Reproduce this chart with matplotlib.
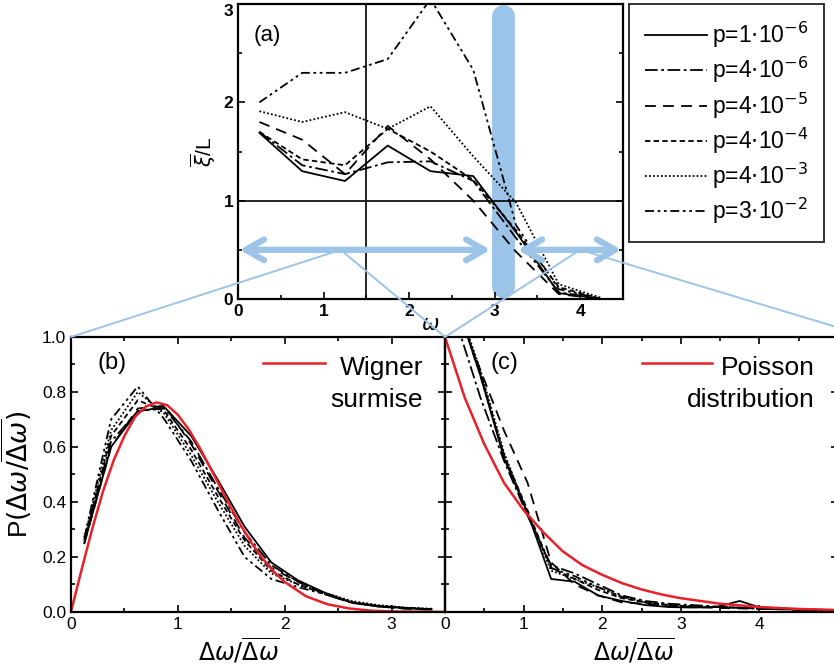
import matplotlib
matplotlib.use('Agg')
import matplotlib.pyplot as plt
import matplotlib.transforms as mtransforms
from matplotlib.patches import ConnectionPatch
from matplotlib.ticker import MultipleLocator

plt.rcParams['font.family'] = ['Liberation Sans', 'DejaVu Sans']
plt.rcParams['mathtext.fontset'] = 'dejavusans'

# ---- panel (a): localisation length vs frequency
omega = [0.25, 0.75, 1.25, 1.75, 2.25, 2.75, 3.25, 3.75, 4.25]
xi_1e6 = [1.69, 1.30, 1.20, 1.56, 1.30, 1.25, 0.68, 0.06, 0.00]
xi_4e6 = [1.70, 1.36, 1.27, 1.39, 1.40, 1.20, 0.62, 0.07, 0.00]
xi_4e5 = [1.80, 1.62, 1.27, 1.76, 1.42, 1.00, 0.48, 0.05, 0.00]
xi_4e4 = [1.70, 1.42, 1.36, 1.73, 1.50, 1.21, 0.70, 0.12, 0.00]
xi_4e3 = [1.91, 1.80, 1.90, 1.73, 1.96, 1.45, 0.98, 0.15, 0.01]
xi_3e2 = [2.00, 2.30, 2.30, 2.44, 3.05, 2.33, 0.75, 0.10, 0.00]

labels = [r'p=1$\cdot$10$^{-6}$', r'p=4$\cdot$10$^{-6}$', r'p=4$\cdot$10$^{-5}$',
          r'p=4$\cdot$10$^{-4}$', r'p=4$\cdot$10$^{-3}$', r'p=3$\cdot$10$^{-2}$']
styles = ['-', (0, (7, 2, 1.5, 2)), (0, (6, 4)), (0, (3, 1.8)), (0, (1, 1.2)),
          (0, (5, 2, 1.5, 2, 1.5, 2))]

# ---- panel (b): spacing distribution, delocalised region
s_b = [0.125, 0.375, 0.625, 0.875, 1.125, 1.375, 1.625, 1.875, 2.125, 2.375, 2.625, 2.875, 3.125, 3.375]
pb_1e6 = [0.25, 0.60, 0.73, 0.745, 0.64, 0.48, 0.31, 0.18, 0.115, 0.07, 0.035, 0.022, 0.015, 0.010]
pb_4e6 = [0.26, 0.62, 0.73, 0.74, 0.62, 0.45, 0.29, 0.17, 0.11, 0.065, 0.033, 0.020, 0.013, 0.009]
pb_4e5 = [0.25, 0.60, 0.74, 0.75, 0.61, 0.44, 0.27, 0.16, 0.11, 0.065, 0.035, 0.020, 0.012, 0.008]
pb_4e4 = [0.26, 0.64, 0.77, 0.73, 0.59, 0.42, 0.26, 0.15, 0.10, 0.065, 0.035, 0.022, 0.014, 0.010]
pb_4e3 = [0.27, 0.66, 0.80, 0.72, 0.57, 0.40, 0.24, 0.14, 0.10, 0.070, 0.040, 0.025, 0.016, 0.012]
pb_3e2 = [0.27, 0.70, 0.82, 0.70, 0.55, 0.37, 0.20, 0.12, 0.09, 0.065, 0.035, 0.020, 0.015, 0.010]

s_wig = [0, 0.1, 0.2, 0.3, 0.4, 0.5, 0.6, 0.7, 0.8, 0.9, 1.0, 1.1, 1.2, 1.3, 1.4, 1.5, 1.6,
         1.7, 1.8, 1.9, 2.0, 2.2, 2.4, 2.6, 2.8, 3.0, 3.25, 3.5]
p_wig = [0, 0.155, 0.304, 0.439, 0.552, 0.640, 0.710, 0.747, 0.762, 0.752, 0.717, 0.665,
         0.600, 0.527, 0.452, 0.377, 0.308, 0.245, 0.191, 0.146, 0.109, 0.057, 0.028,
         0.013, 0.005, 0.002, 0.001, 0.0]

# ---- panel (c): spacing distribution, localised region
s_c = [0.15, 0.45, 0.75, 1.05, 1.35, 1.65, 1.95, 2.25, 2.55, 2.85, 3.15, 3.45, 3.75, 4.05, 4.35, 4.65, 4.95]
pc_1e6 = [1.12, 0.86, 0.56, 0.36, 0.12, 0.11, 0.06, 0.04, 0.025, 0.018, 0.016, 0.018, 0.040, 0.012, 0.010, 0.008, 0.006]
pc_4e6 = [1.05, 0.78, 0.55, 0.35, 0.17, 0.14, 0.10, 0.06, 0.040, 0.030, 0.025, 0.020, 0.015, 0.012, 0.010, 0.008, 0.006]
pc_4e5 = [1.10, 0.88, 0.66, 0.47, 0.18, 0.10, 0.06, 0.035, 0.030, 0.020, 0.018, 0.015, 0.013, 0.011, 0.009, 0.007, 0.006]
pc_4e4 = [1.12, 0.87, 0.57, 0.37, 0.16, 0.12, 0.08, 0.05, 0.035, 0.025, 0.020, 0.018, 0.015, 0.012, 0.010, 0.008, 0.006]
pc_4e3 = [1.13, 0.88, 0.58, 0.36, 0.15, 0.12, 0.09, 0.055, 0.035, 0.025, 0.020, 0.018, 0.016, 0.013, 0.011, 0.009, 0.007]
pc_3e2 = [1.12, 0.86, 0.57, 0.36, 0.16, 0.13, 0.09, 0.055, 0.035, 0.025, 0.020, 0.018, 0.015, 0.013, 0.011, 0.009, 0.007]

s_poi = [0, 0.25, 0.5, 0.75, 1.0, 1.25, 1.5, 1.75, 2.0, 2.25, 2.5, 2.75, 3.0, 3.5, 4.0, 4.5, 5.0]
p_poi = [1.0, 0.78, 0.61, 0.47, 0.37, 0.29, 0.22, 0.17, 0.135, 0.105, 0.082, 0.064, 0.050,
         0.030, 0.018, 0.011, 0.007]

blue = '#9cc4e8'
red = '#e8202a'
lw_data = 1.3


def style_axes(ax, right=True, top=True):
    for sp in ax.spines.values():
        sp.set_linewidth(1.6)
    ax.tick_params(which='both', direction='in', right=right, top=top, width=1.2)
    ax.tick_params(which='major', length=5, labelsize=12.5)
    ax.tick_params(which='minor', length=3)


fig = plt.figure(figsize=(8.34, 6.67), dpi=100)
ax_a = fig.add_axes([0.2854, 0.5517, 0.4616, 0.4423])
ax_b = fig.add_axes([0.0851, 0.0825, 0.4485, 0.4123])
ax_c = fig.add_axes([0.5336, 0.0825, 0.4712, 0.4123])
ax_b.patch.set_alpha(0)
ax_c.patch.set_alpha(0)

# (a)
ax_a.plot([3.1, 3.1], [0.13, 2.88], color=blue, lw=16.5, solid_capstyle='round', zorder=1)
ax_a.axhline(1.0, color='k', lw=1.2, zorder=2)
ax_a.axvline(1.5, color='k', lw=1.2, zorder=2)
series_a = [xi_1e6, xi_4e6, xi_4e5, xi_4e4, xi_4e3, xi_3e2]
handles = []
for ys, ls, lab in zip(series_a, styles, labels):
    h, = ax_a.plot(omega, ys, color='k', lw=lw_data, linestyle=ls, label=lab, zorder=3)
    handles.append(h)
arrow_kw = dict(arrowstyle='<->,head_length=1.3,head_width=0.75', lw=4.5, color=blue,
                shrinkA=0, shrinkB=0)
ax_a.annotate('', xy=(0.02, 0.5), xytext=(2.95, 0.5), arrowprops=arrow_kw, zorder=4)
ax_a.annotate('', xy=(3.27, 0.5), xytext=(4.48, 0.5), arrowprops=arrow_kw, zorder=4)
ax_a.set_xlim(0, 4.5)
ax_a.set_ylim(0, 3.0)
ax_a.xaxis.set_major_locator(MultipleLocator(1))
ax_a.xaxis.set_minor_locator(MultipleLocator(0.5))
ax_a.set_yticks([0, 1, 2, 3], ['0', '1', '2', ''])
ax_a.yaxis.set_minor_locator(MultipleLocator(0.5))
style_axes(ax_a, right=True, top=False)
for t in ax_a.get_xticklabels() + ax_a.get_yticklabels():
    t.set_fontweight('bold')
# top tick label pushed inside the figure, as in the original
ax_a.text(-0.013, 3.0, '3', transform=mtransforms.blended_transform_factory(ax_a.transAxes, ax_a.transData),
          ha='right', va='top', fontsize=12.5, fontweight='bold')
ax_a.set_xlabel(r'$\omega$', fontsize=15, labelpad=-3)
ax_a.set_ylabel(r'$\overline{\xi}$/L', fontsize=15, labelpad=4)
ax_a.text(0.04, 0.93, '(a)', transform=ax_a.transAxes, fontsize=16, va='top')

leg = fig.legend(handles=handles, loc='upper left', bbox_to_anchor=(629 / 834, 1 - 4 / 667),
                 bbox_transform=fig.transFigure, frameon=True, fancybox=False, edgecolor='k',
                 fontsize=16.5, handlelength=2.7, handletextpad=0.2, labelspacing=0.22,
                 borderpad=0.7, borderaxespad=0)
leg.get_frame().set_linewidth(1.4)

# (b)
series_b = [pb_1e6, pb_4e6, pb_4e5, pb_4e4, pb_4e3, pb_3e2]
for ys, ls in zip(series_b, styles):
    ax_b.plot(s_b, ys, color='k', lw=lw_data, linestyle=ls)
ax_b.plot(s_wig, p_wig, color=red, lw=1.8)
ax_b.set_xlim(0, 3.5)
ax_b.set_ylim(0, 1.0)
ax_b.xaxis.set_major_locator(MultipleLocator(1))
ax_b.xaxis.set_minor_locator(MultipleLocator(0.5))
ax_b.set_yticks([0, 0.2, 0.4, 0.6, 0.8, 1.0], ['0.0', '0.2', '0.4', '0.6', '0.8', '1.0'])
ax_b.yaxis.set_minor_locator(MultipleLocator(0.1))
style_axes(ax_b)
ax_b.set_xlabel(r'$\Delta\omega/\overline{\Delta\omega}$', fontsize=17)
ax_b.xaxis.set_label_coords(0.45, -0.085)
ax_b.set_ylabel(r'P$(\Delta\omega/\overline{\Delta\omega})$', fontsize=19)
ax_b.yaxis.set_label_coords(-0.10, 0.5)
ax_b.text(0.072, 0.945, '(b)', transform=ax_b.transAxes, fontsize=17, va='top')
ax_b.plot([0.513, 0.679], [0.905, 0.905], color=red, lw=1.8, transform=ax_b.transAxes)
ax_b.text(0.941, 0.862, 'Wigner', transform=ax_b.transAxes, fontsize=19, ha='right')
ax_b.text(0.941, 0.745, 'surmise', transform=ax_b.transAxes, fontsize=19, ha='right')

# (c)
series_c = [pc_1e6, pc_4e6, pc_4e5, pc_4e4, pc_4e3, pc_3e2]
for ys, ls in zip(series_c, styles):
    ax_c.plot(s_c, ys, color='k', lw=lw_data, linestyle=ls)
ax_c.plot(s_poi, p_poi, color=red, lw=1.8)
ax_c.set_xlim(0, 5)
ax_c.set_ylim(0, 1.0)
ax_c.set_xticks([0, 1, 2, 3, 4, 5])
ax_c.xaxis.set_minor_locator(MultipleLocator(0.5))
ax_c.set_yticks([0, 0.2, 0.4, 0.6, 0.8, 1.0])
ax_c.yaxis.set_minor_locator(MultipleLocator(0.1))
style_axes(ax_c)
ax_c.set_yticklabels([])
ax_c.set_xlabel(r'$\Delta\omega/\overline{\Delta\omega}$', fontsize=17)
ax_c.xaxis.set_label_coords(0.48, -0.085)
ax_c.text(0.115, 0.945, '(c)', transform=ax_c.transAxes, fontsize=17, va='top')
ax_c.plot([0.50, 0.68], [0.905, 0.905], color=red, lw=1.8, transform=ax_c.transAxes)
ax_c.text(0.941, 0.862, 'Poisson', transform=ax_c.transAxes, fontsize=19, ha='right')
ax_c.text(0.941, 0.745, 'distribution', transform=ax_c.transAxes, fontsize=19, ha='right')

# zoom lines linking (a) to (b) and (c)
links = [((1.2, 0.5), ax_b, (0, 1)), ((1.2, 0.5), ax_b, (1, 1)),
         ((4.0, 0.5), ax_c, (0, 1)), ((4.0, 0.5), ax_c, (1.08, 1))]
for pa, axb, pb in links:
    con = ConnectionPatch(xyA=pa, coordsA=ax_a.transData, xyB=pb, coordsB=axb.transAxes,
                          color=blue, lw=1.4, zorder=5)
    fig.add_artist(con)

fig.savefig('out.png', dpi=100)
